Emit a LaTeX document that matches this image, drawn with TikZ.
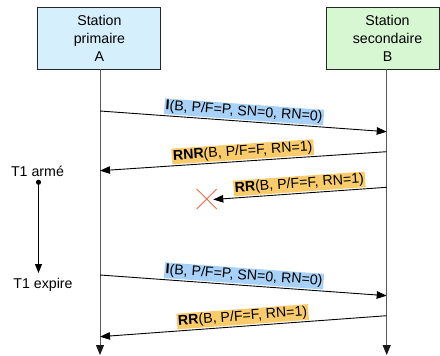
\documentclass[tikz,border=0pt]{standalone}
\usepackage{fontspec}
\setmainfont{Liberation Sans}
\usetikzlibrary{arrows.meta}
\definecolor{boxA}{HTML}{D5EFFC}
\definecolor{boxB}{HTML}{D6F7D2}
\definecolor{hlblue}{HTML}{A7D1F7}
\definecolor{hlorange}{HTML}{F9CB6B}
\definecolor{lifegray}{HTML}{5A5A5A}
\definecolor{lostred}{HTML}{F06A4A}
\begin{document}
\begin{tikzpicture}[x=1pt,y=-1pt,
  every node/.style={font=\fontsize{14.2}{18.2}\selectfont},
  station/.style={draw=black!85, line width=0.9pt, align=center, minimum height=62pt, inner sep=0pt},
  lifeline/.style={draw=lifegray, line width=1pt, -{Triangle[length=10pt,width=8pt,color=black!90]}},
  msg/.style={draw=black, line width=0.9pt, -{Triangle[length=10pt,width=7.5pt]}},
  lbl/.style={sloped, above, inner sep=1.2pt, yshift=1.2pt},
  lblblue/.style={lbl, fill=hlblue},
  lblorange/.style={lbl, fill=hlorange},
  timer/.style={draw=black, line width=0.9pt}]
\useasboundingbox (0,0) rectangle (440,356);

% stations
\node[station, fill=boxA, minimum width=123pt] (A) at (99.4,38.3) {Station\\primaire\\A};
\node[station, fill=boxB, minimum width=113pt] (B) at (382.5,38.3) {};
\node at (387.5,38.3) (Btext) [align=center] {Station\\secondaire\\B};

% lifelines
\coordinate (Atop) at (100,69.3);
\coordinate (Abot) at (100,355);
\coordinate (Btop) at (386.7,69.3);
\coordinate (Bbot) at (386.7,355);
\draw[lifeline] (Atop) -- (Abot);
\draw[lifeline] (Btop) -- (Bbot);

% message end points
\coordinate (a1) at (100,111);   \coordinate (b1) at (386.7,131.7);
\coordinate (b2) at (386.7,151.7); \coordinate (a2) at (100,170.7);
\coordinate (b3) at (386.7,187.3); \coordinate (lost) at (213.3,199.5);
\coordinate (a4) at (100,275);   \coordinate (b4) at (386.7,295.7);
\coordinate (b5) at (386.7,315.7); \coordinate (a5) at (100,336.7);

% messages
\draw[msg] (a1) -- node[lblblue] (m1) {\textbf{I}(B, P/F=P, SN=0, RN=0)} (b1);
\draw[msg] (b2) -- node[lblorange] (m2) {\textbf{RNR}(B, P/F=F, RN=1)} (a2);
\draw[msg] (b3) -- node[lblorange] (m3) {\textbf{RR}(B, P/F=F, RN=1)} (lost);
\draw[msg] (a4) -- node[lblblue] (m4) {\textbf{I}(B, P/F=P, SN=0, RN=0)} (b4);
\draw[msg] (b5) -- node[lblorange] (m5) {\textbf{RR}(B, P/F=F, RN=1)} (a5);

% lost frame
\coordinate (x0) at (206.7,199);
\draw[lostred, line width=0.9pt] ([shift={(-10,-10)}]x0) -- ([shift={(10,10)}]x0)
  ([shift={(-10,10)}]x0) -- ([shift={(10,-10)}]x0);

% timer T1
\node (t1a) at (37.5,171) {T1 armé};
\node (t1e) at (43,285) {T1 expire};
\coordinate (tstart) at (38.5,182.3);
\coordinate (tend) at (38.5,273);
\fill (tstart) circle (2.6pt);
\draw[timer, -{Triangle[length=9pt,width=7pt]}] (tstart) -- (tend);
\end{tikzpicture}
\end{document}
